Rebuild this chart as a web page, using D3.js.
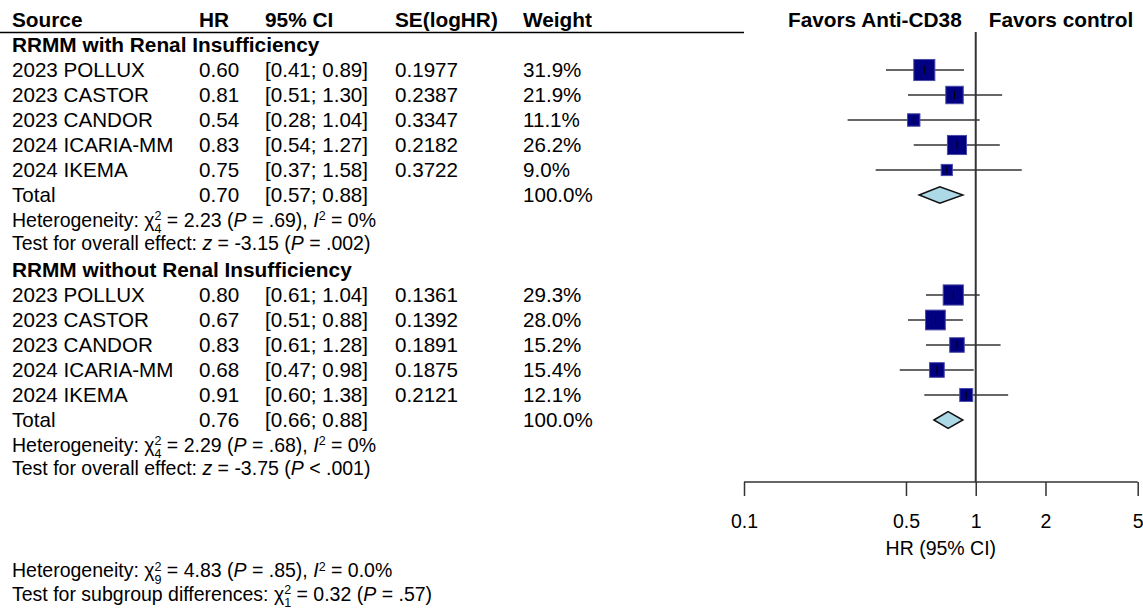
<!DOCTYPE html>
<html><head><meta charset="utf-8">
<script src="https://cdn.jsdelivr.net/npm/d3@7"></script>
<style>
html,body{margin:0;padding:0;background:#fff;}
svg{display:block;font-family:"Liberation Sans",Arial,sans-serif;}
</style></head>
<body><svg id="c" width="1143" height="608"></svg>
<script>
// ---------- data ----------
const headers = ["Source","HR","95% CI","SE(logHR)","Weight"];
const groupNames = ["RRMM with Renal Insufficiency","RRMM without Renal Insufficiency"];
const studies1 = ["2023 POLLUX","2023 CASTOR","2023 CANDOR","2024 ICARIA-MM","2024 IKEMA"];
const hr1 = [0.60,0.81,0.54,0.83,0.75];
const lo1 = [0.41,0.51,0.28,0.54,0.37];
const hi1 = [0.89,1.30,1.04,1.27,1.58];
const se1 = ["0.1977","0.2387","0.3347","0.2182","0.3722"];
const w1  = [31.9,21.9,11.1,26.2,9.0];
const total1 = [0.70,0.57,0.88];
const studies2 = ["2023 POLLUX","2023 CASTOR","2023 CANDOR","2024 ICARIA-MM","2024 IKEMA"];
const hr2 = [0.80,0.67,0.83,0.68,0.91];
const lo2 = [0.61,0.51,0.61,0.47,0.60];
const hi2 = [1.04,0.88,1.28,0.98,1.38];
const se2 = ["0.1361","0.1392","0.1891","0.1875","0.2121"];
const w2  = [29.3,28.0,15.2,15.4,12.1];
const total2 = [0.76,0.66,0.88];
const tickValues = [0.1,0.5,1,2,5];
const tickLabels = ["0.1","0.5","1","2","5"];

// ---------- layout ----------
const svg = d3.select("#c");
const font = '"Liberation Sans",Arial,sans-serif';
const x = d3.scaleLog().domain([0.1,5]).range([744,1137.7]);
const y = d3.scaleLinear().domain([0,1]).range([20,45]); // row index -> center y
const colX = [12,199,265,395,523];
const BL = 7.4; // baseline offset from row center
const FS = 20.6, FSB = 20.8, FSS = 19.5;

function txt(xp, row, s, opt={}) {
  return svg.append("text").attr("x",xp).attr("y",y(row)+BL)
    .attr("font-size",opt.bold?FSB:FS).attr("font-weight",opt.bold?"bold":"normal")
    .attr("fill","#000").attr("text-anchor",opt.anchor||"start").text(s);
}

// header
headers.forEach((h,i)=>txt(colX[i],0,h,{bold:true}));
svg.append("line").attr("x1",0).attr("x2",744).attr("y1",32.5).attr("y2",32.5)
  .attr("stroke","#000").attr("stroke-width",1.5);
txt(x(1)-14,0,"Favors Anti-CD38",{bold:true,anchor:"end"});
txt(x(1)+13,0,"Favors control",{bold:true});

// reference line
svg.append("line").attr("x1",x(1)).attr("x2",x(1)).attr("y1",32).attr("y2",482)
  .attr("stroke","#333").attr("stroke-width",2);

// stat lines with scripts
function statLine(row, parts) {
  const t = svg.append("text").attr("x",12).attr("y",y(row)+BL).attr("font-size",FSS).attr("fill","#000");
  parts.forEach(p=>{
    const ts = t.append("tspan").text(p.t);
    if (p.i) ts.attr("font-style","italic");
    if (p.fs) ts.attr("font-size",p.fs);
    if (p.dy!==undefined) ts.attr("dy",p.dy);
    if (p.dx!==undefined) ts.attr("dx",p.dx);
  });
}
function chiParts(sub){
  return [{t:"χ"},{t:"2",fs:12.5,dy:-6.5},{t:sub,fs:12.5,dx:-7,dy:13},{t:" = ",dy:-6.5}];
}
function hetParts(df,chi,p,i2){
  return [{t:"Heterogeneity: "}].concat(chiParts(df),[
    {t:chi+" ("},{t:"P",i:true},{t:" = "+p+"), "},{t:"I",i:true},
    {t:"2",fs:12.5,dy:-6.5},{t:" = "+i2,dy:6.5}]);
}
function effParts(z,pstr){
  return [{t:"Test for overall effect: "},{t:"z",i:true},{t:" = "+z+" ("},{t:"P",i:true},{t:pstr+")"}];
}

function drawGroup(g, startRow, names, hr, lo, hi, se, w, total, het, eff){
  txt(12,startRow,groupNames[g],{bold:true});
  names.forEach((n,i)=>{
    const r = startRow+1+i;
    txt(colX[0],r,n);
    txt(colX[1],r,hr[i].toFixed(2));
    txt(colX[2],r,"["+lo[i].toFixed(2)+"; "+hi[i].toFixed(2)+"]");
    txt(colX[3],r,se[i]);
    txt(colX[4],r,w[i].toFixed(1)+"%");
    const cy = y(r);
    svg.append("line").attr("x1",x(lo[i])).attr("x2",x(hi[i])).attr("y1",cy).attr("y2",cy)
      .attr("stroke","#333").attr("stroke-width",1.6);
    const s = 3.73*Math.sqrt(w[i]);
    svg.append("rect").attr("x",x(hr[i])-s/2).attr("y",cy-s/2).attr("width",s).attr("height",s)
      .attr("fill","#000080").attr("stroke","#4a4aa8").attr("stroke-width",1);
    svg.append("line").attr("x1",x(hr[i])).attr("x2",x(hr[i])).attr("y1",cy-4).attr("y2",cy+4)
      .attr("stroke","#000").attr("stroke-width",1);
  });
  const tr = startRow+6;
  txt(colX[0],tr,"Total");
  txt(colX[1],tr,total[0].toFixed(2));
  txt(colX[2],tr,"["+total[1].toFixed(2)+"; "+total[2].toFixed(2)+"]");
  txt(colX[4],tr,"100.0%");
  const cy = y(tr);
  const pts = [[x(total[1]),cy],[x(total[0]),cy-8.3],[x(total[2]),cy],[x(total[0]),cy+8.3]];
  svg.append("polygon").attr("points",pts.map(p=>p.join(",")).join(" "))
    .attr("fill","#add8e6").attr("stroke","#111").attr("stroke-width",1.5);
  statLine(tr+0.98, het);
  statLine(tr+1.92, eff);
}

drawGroup(0,1,studies1,hr1,lo1,hi1,se1,w1,total1,hetParts("4","2.23",".69","0%"),effParts("-3.15"," = .002"));
drawGroup(1,10,studies2,hr2,lo2,hi2,se2,w2,total2,hetParts("4","2.29",".68","0%"),effParts("-3.75"," < .001"));

// overall lines
statLine(22.0, hetParts("9","4.83",".85","0.0%"));
statLine(22.94, [{t:"Test for subgroup differences: "}].concat(chiParts("1"),[{t:"0.32 ("},{t:"P",i:true},{t:" = .57)"}]));

// axis
const axis = d3.axisBottom(x).tickValues(tickValues).tickSize(14).tickPadding(18)
  .tickFormat((d,i)=>tickLabels[i]);
const ag = svg.append("g").attr("transform","translate(0,482)").call(axis);
ag.select(".domain").attr("d",`M${x(0.1)},0H${x(5)}`).attr("stroke","#333").attr("stroke-width",1.5);
ag.selectAll(".tick line").attr("stroke","#333").attr("stroke-width",1.5);
ag.selectAll(".tick text").attr("font-size",FSS).attr("font-family",font).attr("fill","#000");
svg.append("text").attr("x",(x(0.1)+x(5))/2).attr("y",555).attr("text-anchor","middle")
  .attr("font-size",FSS).attr("fill","#000").text("HR (95% CI)");
</script></body></html>
